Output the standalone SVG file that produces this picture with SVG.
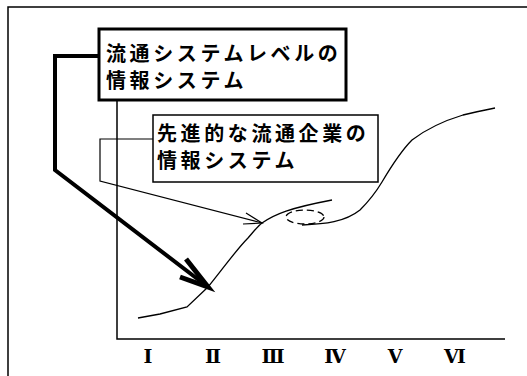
<svg xmlns="http://www.w3.org/2000/svg" width="527" height="376" viewBox="0 0 527 376">
<style>
.jp{font-family:"Noto Sans CJK JP","Noto Sans",sans-serif;font-size:20px;font-weight:bold;letter-spacing:3.6px;fill:#000}
.rn{font-family:"Liberation Serif","DejaVu Serif",serif;font-size:19px;font-weight:bold;fill:#000;text-anchor:middle}
.ln{fill:none;stroke:#000;stroke-linejoin:miter}
</style>
<rect width="527" height="376" fill="#fff"/>
<g id="frame" class="ln" stroke-width="1.5">
<path d="M8,376 L8,7 L527,7"/>
</g>
<g id="axes" class="ln" stroke-width="1.5">
<path d="M117,100 L117,339 L505,339"/>
</g>
<g id="curve" class="ln" stroke-width="1.3">
<path d="M138,318 L160,314 L187,307 L208,287 C222,270 236,250 248,238 C255,230 258,226 262,223 C275,214 290,208 332,200"/>
<path d="M302,225 C325,224 345,222 360,210 C370,200 376,192 382,182 C395,160 405,147 412,140 C425,130 440,122 463,115 C475,112 485,110 495,108"/>
<ellipse cx="305" cy="217" rx="19" ry="7" stroke-dasharray="7,4"/>
</g>
<g id="connectors" class="ln">
<path d="M99,56 L55,56 L55,170 L208,287" stroke-width="4"/>
<path d="M186,259 L208,287 L180,277" stroke-width="5"/>
<path d="M153,139 L100,139 L100,181 L262,223" stroke-width="1.2"/>
<path d="M246,213 L262,223 L243,224" stroke-width="1.2"/>
</g>
<g id="node1">
<rect x="99" y="29" width="247" height="71" fill="#fff" stroke="#000" stroke-width="3"/>
<text class="jp" x="106" y="61">流通システムレベルの</text>
<text class="jp" x="106" y="88">情報システム</text>
</g>
<g id="node2">
<rect x="153" y="115" width="225" height="67" fill="#fff" stroke="#000" stroke-width="1.5"/>
<text class="jp" x="157" y="141">先進的な流通企業の</text>
<text class="jp" x="157" y="168">情報システム</text>
</g>
<g id="labels">
<text class="rn" x="148" y="363">Ⅰ</text>
<text class="rn" x="213" y="363">Ⅱ</text>
<text class="rn" x="273" y="363">Ⅲ</text>
<text class="rn" x="335" y="363">Ⅳ</text>
<text class="rn" x="395" y="363">Ⅴ</text>
<text class="rn" x="455" y="363">Ⅵ</text>
</g>
</svg>
